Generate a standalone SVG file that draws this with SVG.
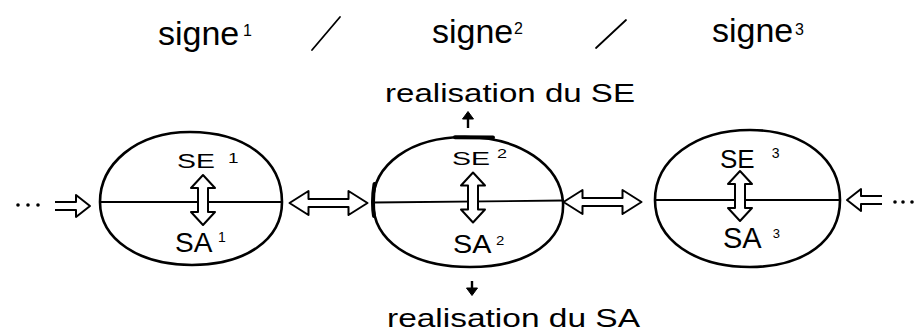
<svg xmlns="http://www.w3.org/2000/svg" width="920" height="335" viewBox="0 0 920 335">
  <style>
    .ink { fill: none; stroke: #000; stroke-width: 2.6; stroke-linejoin: round; stroke-linecap: round; }
    .mid { fill: none; stroke: #000; stroke-width: 1.8; stroke-linecap: round; }
    .hollow { fill: #fff; stroke: #000; stroke-width: 2; stroke-linejoin: round; }
    .solid { fill: #000; stroke: #000; stroke-width: 1; }
    .heavy { fill: none; stroke: #000; stroke-width: 4; stroke-linecap: round; }
    text { font-family: "Liberation Sans", Arial, sans-serif; fill: #000; }
  </style>
  <defs>
    <path id="vdbl" d="M0,-25 L12,-12 L5,-12 L5,12 L12,12 L0,25 L-12,12 L-5,12 L-5,-12 L-12,-12 Z"/>
    <path id="hdbl" d="M-39,0 L-20,-12 L-20,-4 L20,-4 L20,-12 L39,0 L20,12 L20,4 L-20,4 L-20,12 Z"/>
    <path id="hsgl" d="M-35,-4 L-14,-4 L-14,-11 L0,0 L-14,11 L-14,4 L-35,4"/>
  </defs>
  <rect width="920" height="335" fill="#fff"/>

  <g id="titles">
    <text x="158" y="45" font-size="34">signe<tspan x="243" y="36" font-size="16">1</tspan></text>
    <line class="mid" x1="312" y1="50" x2="340" y2="17"/>
    <text x="432" y="43" font-size="34">signe<tspan x="514" y="34" font-size="16">2</tspan></text>
    <line class="mid" x1="596" y1="48" x2="626" y2="20"/>
    <text x="712" y="42" font-size="34">signe<tspan x="795" y="35" font-size="16">3</tspan></text>
  </g>

  <g id="node-signe1">
    <path class="ink" d="M282,202 C282,160 245,132 190,132 C135,132 100,165 100,202 C100,240 140,265 192,265 C245,265 282,240 282,202 Z"/>
    <line class="mid" x1="100" y1="202" x2="282" y2="202"/>
    <use href="#vdbl" class="hollow" x="203" y="200"/>
    <text transform="translate(177,168) scale(1.35,1)" font-size="21">SE<tspan dx="9.8" dy="-5" font-size="14">1</tspan></text>
    <text x="175" y="252" font-size="28">SA<tspan dx="5.6" dy="-10" font-size="14">1</tspan></text>
  </g>

  <g id="node-signe2">
    <path class="ink" d="M373,202 C373,165 410,137 465,137 C520,137 560,165 563,202 C565,240 530,267 470,267 C410,267 373,240 373,202 Z"/>
    <path class="heavy" d="M455,137.3 L493,137.5"/>
    <path class="heavy" d="M374.5,184 C373.5,190 373,196 373,202 C373,208 373.3,212 374,216"/>
    <line class="mid" x1="373" y1="202.5" x2="563" y2="200.5"/>
    <use href="#vdbl" class="hollow" x="473" y="197.5"/>
    <text transform="translate(452,165) scale(1.5,1)" font-size="19">SE<tspan dx="4.7" dy="-7" font-size="12">2</tspan></text>
    <text transform="translate(453,253) scale(1.15,1)" font-size="25">SA<tspan dx="4" dy="-8" font-size="13">2</tspan></text>
  </g>

  <g id="node-signe3">
    <path class="ink" d="M655,200 C655,160 695,130 750,130 C805,130 840,160 840,200 C840,240 805,267 750,267 C695,267 655,240 655,200 Z"/>
    <line class="mid" x1="655" y1="200" x2="840" y2="200"/>
    <use href="#vdbl" class="hollow" x="740" y="196"/>
    <text x="720" y="168" font-size="26">SE<tspan dx="17" dy="-10" font-size="14">3</tspan></text>
    <text x="723" y="248" font-size="29">SA<tspan dx="11" dy="-10" font-size="13">3</tspan></text>
  </g>

  <g id="realisation-se">
    <text x="385" y="102" font-size="25" textLength="250" lengthAdjust="spacingAndGlyphs">realisation du SE</text>
  </g>
  <g id="realisation-sa">
    <text x="387" y="327" font-size="25" textLength="253" lengthAdjust="spacingAndGlyphs">realisation du SA</text>
  </g>

  <g id="connectors">
    <use href="#hdbl" class="hollow" x="328.5" y="203"/>
    <use href="#hdbl" class="hollow" x="602.5" y="202"/>
    <use href="#hsgl" class="hollow" transform="translate(90,206)"/>
    <use href="#hsgl" class="hollow" transform="translate(847,200) rotate(180)"/>
    <g fill="#000">
      <circle cx="18" cy="205" r="1.8"/>
      <circle cx="28" cy="205" r="1.8"/>
      <circle cx="38" cy="205" r="1.8"/>
      <circle cx="895" cy="202" r="1.8"/>
      <circle cx="903" cy="202" r="1.8"/>
      <circle cx="912" cy="202" r="1.8"/>
    </g>
    <line x1="468" y1="128" x2="468" y2="117" stroke="#000" stroke-width="2.4"/>
    <path class="solid" d="M462.5,119 L468,111.5 L473.5,119 Z"/>
    <line x1="472" y1="281" x2="472" y2="290" stroke="#000" stroke-width="2.4"/>
    <path class="solid" d="M466.5,288 L472,295.5 L477.5,288 Z"/>
  </g>
</svg>
